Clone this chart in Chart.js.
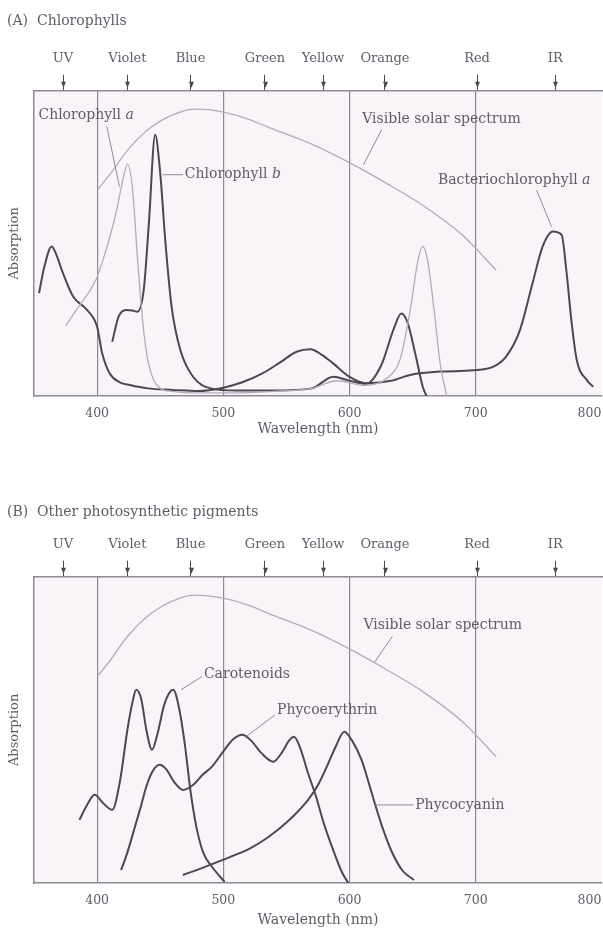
<!DOCTYPE html>
<html>
<head>
<meta charset="utf-8">
<script src="https://cdn.jsdelivr.net/npm/chart.js@4.4.1/dist/chart.umd.min.js"></script>
<style>
  html, body { margin: 0; padding: 0; background: #fff; }
  body { width: 603px; height: 935px; position: relative; overflow: hidden; }
  .panel { position: absolute; left: 0; width: 603px; }
  #panelA { top: 0; height: 455px; }
  #panelB { top: 470px; height: 465px; }
</style>
</head>
<body>
<div class="panel" id="panelA"><canvas id="chartA"></canvas></div>
<div class="panel" id="panelB"><canvas id="chartB"></canvas></div>
<script>
// Spectrum bands marked along the top edge
const bandNames = ['UV', 'Violet', 'Blue', 'Green', 'Yellow', 'Orange', 'Red', 'IR'];
const bandWl = [373, 424, 474, 533, 579, 628, 701, 763];
const wlTicks = [400, 500, 600, 700, 800];

// Visible solar spectrum (same curve in both panels)
const solarWl = [400, 410, 424, 438, 451, 464, 476, 488, 500, 518, 536, 570, 601, 630, 658, 690, 716];
const solarVal = [67.4, 72.5, 80.5, 86.5, 90.3, 92.8, 94, 93.8, 93, 91, 88, 82.5, 76.2, 69.5, 62.5, 52.5, 41.3];

// (A) chlorophylls
const chlAWl = [375, 385, 395, 400, 405, 410, 415, 420, 424, 428, 432, 436, 440, 445, 450, 460, 480, 500, 540, 570, 590, 612, 630, 640, 648, 654, 658, 662, 667, 672, 677];
const chlAVal = [23, 29, 35, 39, 45, 52, 60, 70, 76, 68, 45, 25, 12, 5, 2.5, 1.5, 1, 1, 1.5, 2.5, 5, 3.5, 6, 12, 28, 44, 49, 44, 28, 10, 0];

const chlBWl = [412, 417, 423, 428, 432, 437, 441, 446, 450, 454, 459, 466, 476, 490, 510, 540, 570, 587, 600, 613, 625, 635, 641, 646, 652, 658, 661];
const chlBVal = [17.8, 26, 28.2, 28, 27.6, 35, 56.6, 85.6, 73, 51, 29.3, 15, 6.3, 2.5, 1.8, 1.8, 2.5, 6.3, 5, 4, 10, 22, 27, 24, 14, 3, 0];

const bchlWl = [354, 358, 364, 368, 372, 381, 392, 400, 404, 410, 418, 426, 440, 460, 480, 500, 515, 531, 545, 558, 569, 578, 587, 600, 614, 633, 648, 672, 698, 714, 724, 735, 745, 753, 761, 768, 772, 776, 780, 788, 793];
const bchlVal = [33.7, 42, 49, 46, 41.3, 32.6, 28.2, 22.7, 14, 7.4, 4.5, 3.6, 2.5, 2, 1.6, 2.7, 4.5, 7.4, 11, 14.5, 15.3, 13.5, 10.7, 6.3, 4.2, 5, 6.9, 8, 8.4, 9.6, 12.9, 21.6, 37, 49, 53.9, 52.8, 40.2, 23.8, 11.8, 5.2, 3];

// (B) other pigments
const carotWl = [386, 392, 398, 405, 412, 418, 424, 428, 431, 435, 439, 443.5, 448, 453, 457, 460.3, 465, 469.4, 474, 478.6, 484, 491, 501];
const carotVal = [20.6, 25.5, 28.8, 26, 23.9, 33, 50, 59, 63.1, 60, 50, 43.5, 49, 58, 62, 63.1, 57, 45.6, 30, 18.4, 10, 5.3, 0.4];

const phycoeryWl = [419, 424, 430, 435, 439, 444, 449.6, 455, 461, 468, 476, 484, 491, 500, 508, 515, 522, 530, 539.5, 547, 552, 556, 561, 567, 573, 580, 588, 594, 599];
const phycoeryVal = [4.2, 10, 18.4, 25.5, 31.5, 36.5, 38.6, 37, 33, 30.4, 32, 35.5, 38, 43, 47, 48.4, 46.5, 42.5, 39.6, 43, 46.5, 47.8, 44, 36, 28.8, 19, 9.7, 3.5, 0];

const phycocyWl = [468, 485, 506, 522, 536, 552, 567, 575, 582, 589, 595.8, 602, 609.5, 615, 620, 627, 634, 642, 651];
const phycocyVal = [2.6, 5.2, 8.6, 11.5, 15.1, 20.5, 27.1, 32, 38, 44.5, 49.4, 46.5, 40.2, 33, 26, 17, 9.7, 4, 1];

// Callout texts and leader lines, in (wavelength, absorption) units
const calloutsA = [
  { text: 'Chlorophyll a', x: 353.5, y: 91.8 },
  { text: 'Visible solar spectrum', x: 610, y: 90.5 },
  { text: 'Chlorophyll b', x: 469.5, y: 72.5 },
  { text: 'Bacteriochlorophyll a', x: 670, y: 70.8 },
];
const leadersA = [
  [[407.7, 88.3], [417.7, 68.6]],
  [[625.4, 87.2], [610.9, 75.7]],
  [[452, 72.5], [468, 72.5]],
  [[748.2, 67.5], [760, 55.5]],
];
const calloutsB = [
  { text: 'Visible solar spectrum', x: 611, y: 84.3 },
  { text: 'Carotenoids', x: 484.6, y: 68 },
  { text: 'Phycoerythrin', x: 542.5, y: 56.5 },
  { text: 'Phycocyanin', x: 652, y: 25.5 },
];
const leadersB = [
  [[633.9, 80.5], [620.1, 72.3]],
  [[483, 67.4], [466.4, 63.1]],
  [[540.9, 54.9], [518.1, 47.8]],
  [[620.1, 25.5], [650.6, 25.5]],
];

const DARK = '#4d4755';
const LIGHT = '#b4abb8';
const GRID = '#8e8994';
const TEXT = '#625b68';
const FAMILY = '"DejaVu Serif", serif';

function pts(xs, ys) {
  return xs.map((x, i) => ({ x: x, y: ys[i] }));
}

function curve(label, xs, ys, light) {
  return {
    label: label,
    data: pts(xs, ys),
    borderColor: light ? LIGHT : DARK,
    borderWidth: light ? 1.3 : 2,
    pointRadius: 0,
    fill: false,
    cubicInterpolationMode: 'monotone',
  };
}

const plotBg = {
  id: 'plotBg',
  beforeDraw(chart) {
    const { ctx, chartArea: a } = chart;
    ctx.save();
    ctx.fillStyle = '#f8f4f8';
    ctx.fillRect(a.left, a.top, a.right - a.left, a.bottom - a.top);
    ctx.restore();
  }
};

const bandArrows = {
  id: 'bandArrows',
  afterDraw(chart) {
    const s = chart.scales.x2;
    const ctx = chart.ctx;
    ctx.save();
    ctx.fillStyle = DARK;
    s.ticks.forEach(t => {
      const px = Math.round(s.getPixelForValue(t.value)) + 0.5;
      const y = s.bottom - 3;
      ctx.beginPath();
      ctx.moveTo(px - 2.5, y - 6);
      ctx.lineTo(px + 2.5, y - 6);
      ctx.lineTo(px, y);
      ctx.closePath();
      ctx.fill();
    });
    ctx.restore();
  }
};

function calloutPlugin(labels, leaders) {
  return {
    id: 'callouts',
    afterDatasetsDraw(chart) {
      const { ctx, scales: { x, y } } = chart;
      ctx.save();
      ctx.strokeStyle = GRID;
      ctx.lineWidth = 1;
      leaders.forEach(seg => {
        ctx.beginPath();
        ctx.moveTo(x.getPixelForValue(seg[0][0]), y.getPixelForValue(seg[0][1]));
        ctx.lineTo(x.getPixelForValue(seg[1][0]), y.getPixelForValue(seg[1][1]));
        ctx.stroke();
      });
      ctx.fillStyle = TEXT;
      ctx.textBaseline = 'middle';
      labels.forEach(l => {
        const px = x.getPixelForValue(l.x);
        const py = y.getPixelForValue(l.y);
        // trailing a / b in italics, the way pigment names are set
        const m = l.text.match(/^(.*) ([ab])$/);
        ctx.font = '14px ' + FAMILY;
        if (m) {
          ctx.fillText(m[1] + ' ', px, py);
          const w = ctx.measureText(m[1] + ' ').width;
          ctx.font = 'italic 14px ' + FAMILY;
          ctx.fillText(m[2], px + w, py);
        } else {
          ctx.fillText(l.text, px, py);
        }
      });
      ctx.restore();
    }
  };
}

function makeChart(id, cfg) {
  return new Chart(document.getElementById(id), {
    type: 'line',
    data: { datasets: cfg.datasets },
    options: {
      responsive: true,
      maintainAspectRatio: false,
      animation: false,
      events: [],
      layout: { padding: { left: 7, right: 1, top: 0, bottom: 0 } },
      plugins: {
        legend: { display: false },
        tooltip: { enabled: false },
        title: {
          display: true,
          text: cfg.title,
          align: 'start',
          color: TEXT,
          font: { family: FAMILY, size: 14, weight: 'normal' },
          padding: { top: cfg.titleTop, bottom: 0 },
        },
      },
      scales: {
        x: {
          type: 'linear',
          position: 'bottom',
          min: 350,
          max: 800,
          afterBuildTicks: s => { s.ticks = wlTicks.map(v => ({ value: v })); },
          afterFit: s => { s.height = cfg.bottomH; s.paddingLeft = 0; s.paddingRight = 0; },
          grid: {
            drawTicks: false,
            color: c => (c.tick && c.tick.value === 800) ? 'rgba(0,0,0,0)' : GRID,
            lineWidth: 1.2,
          },
          border: { display: true, color: GRID, width: 1.5 },
          ticks: {
            color: TEXT,
            padding: 10,
            maxRotation: 0,
            font: { family: FAMILY, size: 12.5 },
            // the last label sits against the right edge, shift it inwards
            callback: v => v === 800 ? '800\u2003\u2003' : String(v),
          },
          title: {
            display: true,
            text: 'Wavelength (nm)',
            color: TEXT,
            font: { family: FAMILY, size: 14 },
            padding: { top: 0, bottom: cfg.wlTitleBottom },
          },
        },
        x2: {
          type: 'linear',
          position: 'top',
          min: 350,
          max: 800,
          afterBuildTicks: s => { s.ticks = bandWl.map(v => ({ value: v })); },
          afterFit: s => { s.height = cfg.topH; s.paddingLeft = 0; s.paddingRight = 0; },
          grid: { drawOnChartArea: false, drawTicks: true, tickLength: 16, tickColor: DARK, tickWidth: 1 },
          border: { display: true, color: GRID, width: 1.5 },
          ticks: {
            autoSkip: false,
            maxRotation: 0,
            padding: 8,
            color: TEXT,
            font: { family: FAMILY, size: 13 },
            callback: (v, i) => bandNames[i],
          },
        },
        y: {
          type: 'linear',
          min: 0,
          max: 100,
          afterFit: s => { s.width = 27; },
          grid: { display: false },
          border: { display: true, color: GRID, width: 1.5 },
          ticks: { display: false },
          title: {
            display: true,
            text: 'Absorption',
            color: TEXT,
            font: { family: FAMILY, size: 13 },
            padding: { top: 0, bottom: 0 },
          },
        },
      },
    },
    plugins: [plotBg, bandArrows, calloutPlugin(cfg.labels, cfg.leaders)],
  });
}

makeChart('chartA', {
  title: '(A)  Chlorophylls',
  titleTop: 13,
  topH: 61,
  bottomH: 59,
  wlTitleBottom: 17,
  labels: calloutsA,
  leaders: leadersA,
  datasets: [
    curve('Visible solar spectrum', solarWl, solarVal, true),
    curve('Chlorophyll a', chlAWl, chlAVal, true),
    curve('Chlorophyll b', chlBWl, chlBVal, false),
    curve('Bacteriochlorophyll a', bchlWl, bchlVal, false),
  ],
});

makeChart('chartB', {
  title: '(B)  Other photosynthetic pigments',
  titleTop: 34,
  topH: 56,
  bottomH: 52,
  wlTitleBottom: 6,
  labels: calloutsB,
  leaders: leadersB,
  datasets: [
    curve('Visible solar spectrum', solarWl, solarVal, true),
    curve('Carotenoids', carotWl, carotVal, false),
    curve('Phycoerythrin', phycoeryWl, phycoeryVal, false),
    curve('Phycocyanin', phycocyWl, phycocyVal, false),
  ],
});
</script>
</body>
</html>
